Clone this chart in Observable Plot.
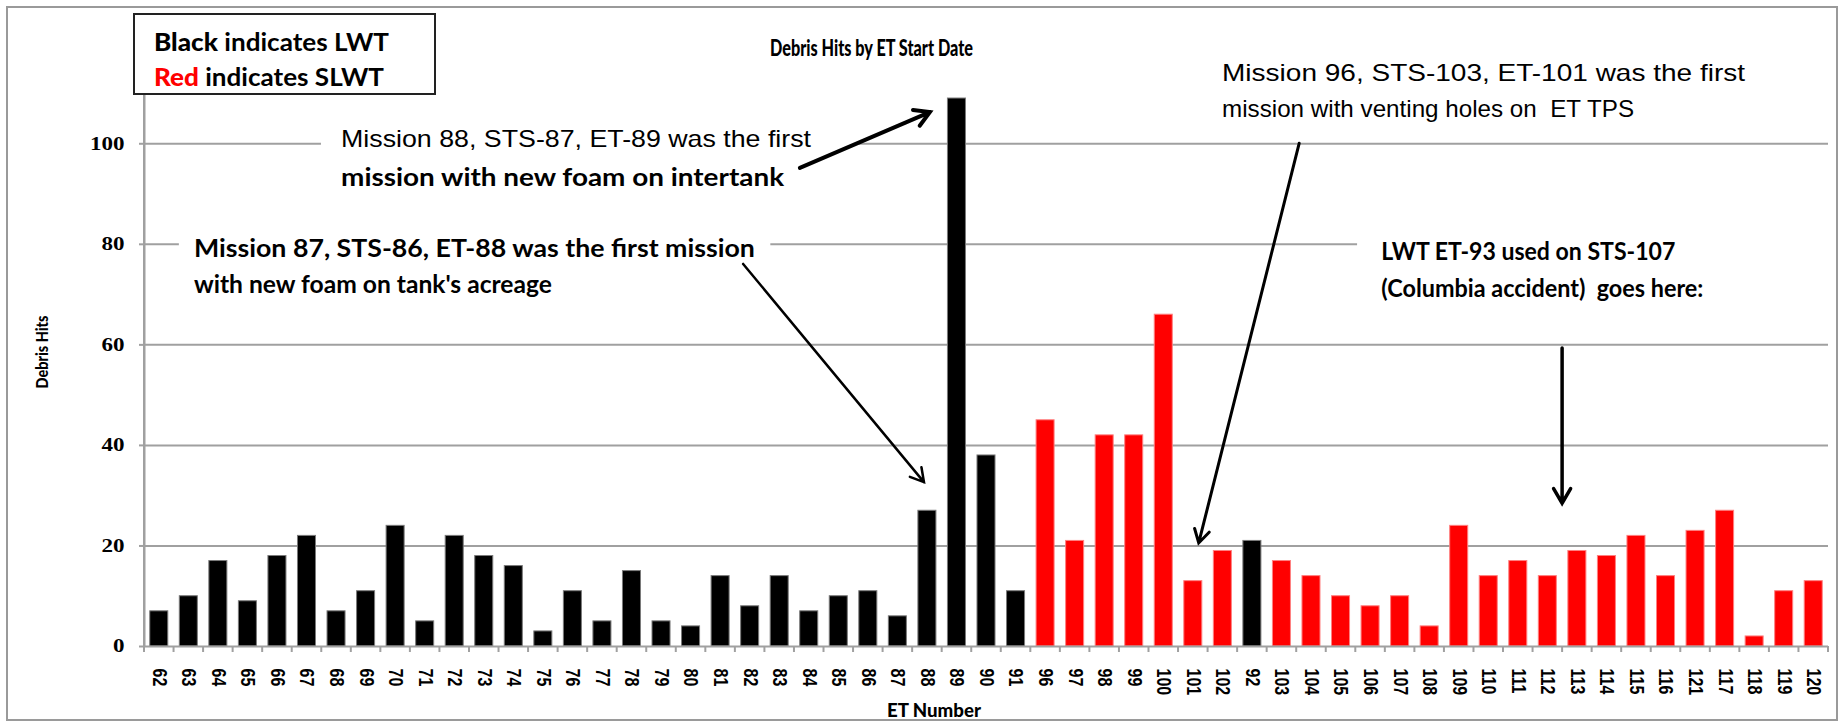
<!DOCTYPE html>
<html><head><meta charset="utf-8">
<script src="https://cdn.jsdelivr.net/npm/d3@7"></script>
<script src="https://cdn.jsdelivr.net/npm/@observablehq/plot@0.6"></script>
<style>
html,body{margin:0;padding:0;background:#fff;}
#chart{position:relative;width:1843px;height:723px;overflow:hidden;}
#chart svg{display:block;}
g[aria-label="y-axis tick"], g[aria-label="y-axis tick"] path{stroke:#a0a0a0;stroke-width:2px;}
</style></head><body><div id="chart"></div>
<script>
// ---- data ----
const etNumbers = ["62","63","64","65","66","67","68","69","70","71","72","73","74","75","76","77","78","79","80","81","82","83","84","85","86","87","88","89","90","91","96","97","98","99","100","101","102","92","103","104","105","106","107","108","109","110","111","112","113","114","115","116","121","117","118","119","120"];
const debrisHits = [7,10,17,9,18,22,7,11,24,5,22,18,16,3,11,5,15,5,4,14,8,14,7,10,11,6,27,109,38,11,45,21,42,42,66,13,19,21,17,14,10,8,10,4,24,14,17,14,19,18,22,14,23,27,2,11,13];
const tankClass = ["LWT","LWT","LWT","LWT","LWT","LWT","LWT","LWT","LWT","LWT","LWT","LWT","LWT","LWT","LWT","LWT","LWT","LWT","LWT","LWT","LWT","LWT","LWT","LWT","LWT","LWT","LWT","LWT","LWT","LWT","SLWT","SLWT","SLWT","SLWT","SLWT","SLWT","SLWT","LWT","SLWT","SLWT","SLWT","SLWT","SLWT","SLWT","SLWT","SLWT","SLWT","SLWT","SLWT","SLWT","SLWT","SLWT","SLWT","SLWT","SLWT","SLWT","SLWT"];
const yTicks = [0,20,40,60,80,100];
const gridValues = [20,40,60,80,100];
const yMax = 110;
const chartTitle = "Debris Hits by ET Start Date";
const xTitle = "ET Number";
const yTitle = "Debris Hits";

// ---- styles ----
const fillFor = {LWT: "#000000", SLWT: "#ff0000"};
const edgeFor = {LWT: "#7a7a7a", SLWT: "#ff8080"};
const SX = 1.28; // horizontal stretch of the original picture's lettering
const W = 1843, H = 723, ML = 144, MR = 15, MT = 93, MB = 77;
const pIn = 0.39, pOut = 0.195;
const stepPx = (W - ML - MR) / etNumbers.length;

const data = etNumbers.map((et, i) => ({et, hits: debrisHits[i], type: tankClass[i]}));

const plot = Plot.plot({
  width: W, height: H,
  marginLeft: ML, marginRight: MR, marginTop: MT, marginBottom: MB,
  style: {background: "white", fontFamily: "Liberation Sans", overflow: "visible"},
  x: {type: "band", domain: etNumbers, paddingInner: pIn, paddingOuter: pOut, label: null},
  y: {domain: [0, yMax], label: null},
  color: {type: "identity"},
  marks: [
    Plot.gridY(gridValues, {stroke: "#a0a0a0", strokeOpacity: 1, strokeWidth: 2}),
    Plot.barY(data, {x: "et", y: "hits", fill: d => fillFor[d.type], stroke: d => edgeFor[d.type], strokeWidth: 1}),
    Plot.ruleY([0], {stroke: "#a0a0a0", strokeWidth: 2}),
    Plot.ruleX([etNumbers[0]], {x: d => d, y1: 0, y2: yMax, dx: -stepPx / 2, stroke: "#a0a0a0", strokeWidth: 2}),
    Plot.axisY(yTicks, {tickSize: 5, tickPadding: 15, fontSize: 18, fontWeight: "bold", fontFamily: "Liberation Serif", label: null}),
    Plot.axisX({tickSize: 0, tickPadding: 22, tickRotate: 90, fontSize: 16, fontWeight: "bold", fontFamily: "Liberation Sans", label: null})
  ]
});
document.getElementById("chart").appendChild(plot);

// ---- annotation layer (positions through the plot's scales) ----
const svg = d3.select(plot);
const xs = plot.scale("x"), ys = plot.scale("y");
const step = xs.apply(etNumbers[1]) - xs.apply(etNumbers[0]);
const x0 = xs.apply(etNumbers[0]) - (step - xs.bandwidth) / 2;
const X = i => x0 + step * i;      // position along the category axis, in category steps
const Y = v => ys.apply(v);

// stretch axis lettering horizontally
svg.selectAll('g[aria-label="x-axis tick label"] text').attr("transform", function() {
  const t = this.getAttribute("transform") || "";
  return t.replace("rotate(", `scale(${SX},1) rotate(`);
});
svg.selectAll('g[aria-label="y-axis tick label"] text').attr("transform", function() {
  const t = this.getAttribute("transform") || "";
  return t + ` scale(${SX},1)`;
});

// x-axis category boundary ticks
svg.append("g").selectAll("line").data(d3.range(etNumbers.length + 1)).join("line")
  .attr("x1", i => X(i)).attr("x2", i => X(i)).attr("y1", Y(0)).attr("y2", Y(0) + 6)
  .attr("stroke", "#a0a0a0").attr("stroke-width", 2);

// white boxes of the text annotations (hide gridlines behind them)
const boxes = [
  {i0: 5.99, i1: 24.2, v0: 89.7, v1: 104.6},
  {i0: 1.18, i1: 21.2, v0: 68.8, v1: 83.2},
  {i0: 41.06, i1: 57.1, v0: 67.8, v1: 81.8}
];
svg.append("g").selectAll("rect").data(boxes).join("rect")
  .attr("x", d => X(d.i0)).attr("width", d => X(d.i1) - X(d.i0))
  .attr("y", d => Y(d.v1)).attr("height", d => Y(d.v0) - Y(d.v1))
  .attr("fill", "white");

// y axis line (on top of the boxes)
svg.append("line").attr("x1", X(0)).attr("x2", X(0)).attr("y1", Y(yMax)).attr("y2", Y(0) + 1)
  .attr("stroke", "#a0a0a0").attr("stroke-width", 2);

// text annotations
const notes = [
  {t: "Mission 88, STS-87, ET-89 was the first", i: 6.67, v: 100.9, f: "Liberation Sans", w: "normal", s: 24, len: 470},
  {t: "mission with new foam on intertank", i: 6.67, v: 93.5, f: "Lato", w: "bold", s: 25, len: 443},
  {t: "Mission 87, STS-86, ET-88 was the first mission", i: 1.69, v: 79.4, f: "Lato", w: "bold", s: 25, len: 561},
  {t: "with new foam on tank's acreage", i: 1.69, v: 72.2, f: "Lato", w: "bold", s: 25, len: 358},
  {t: "Mission 96, STS-103, ET-101 was the first", i: 36.49, v: 114.0, f: "Liberation Sans", w: "normal", s: 24, len: 523},
  {t: "mission with venting holes on  ET TPS", i: 36.49, v: 107.0, f: "Liberation Sans", w: "normal", s: 24, len: 412},
  {t: "LWT ET-93 used on STS-107", i: 41.88, v: 78.8, f: "Lato", w: "bold", s: 25, len: 294},
  {t: "(Columbia accident)  goes here:", i: 41.88, v: 71.4, f: "Lato", w: "bold", s: 25, len: 322}
];
svg.append("g").selectAll("text").data(notes).join("text")
  .attr("x", d => X(d.i)).attr("y", d => Y(d.v))
  .attr("text-anchor", "start").attr("dominant-baseline", "central")
  .attr("font-family", d => d.f).attr("font-weight", d => d.w).attr("font-size", d => d.s)
  .attr("textLength", d => d.len).attr("lengthAdjust", "spacingAndGlyphs")
  .attr("fill", "#000").style("white-space", "pre")
  .text(d => d.t);

// arrows: tail (i1,v1) -> tip (i2,v2)
const arrows = [
  {i1: 22.2, v1: 95.1, i2: 26.6, v2: 106.2, w: 4, h: 17},
  {i1: 20.28, v1: 76.0, i2: 26.4, v2: 32.6, w: 2.5, h: 15},
  {i1: 39.1, v1: 100, i2: 35.7, v2: 20.5, w: 3, h: 15},
  {i1: 48, v1: 59.3, i2: 48, v2: 28.4, w: 3.5, h: 17}
];
function arrowPath(d) {
  const x1 = X(d.i1), y1 = Y(d.v1), x2 = X(d.i2), y2 = Y(d.v2);
  const a = Math.atan2(y2 - y1, x2 - x1), sp = Math.PI / 6;
  const ax = x2 - d.h * Math.cos(a - sp), ay = y2 - d.h * Math.sin(a - sp);
  const bx = x2 - d.h * Math.cos(a + sp), by = y2 - d.h * Math.sin(a + sp);
  return `M${x1},${y1}L${x2},${y2}M${ax},${ay}L${x2},${y2}L${bx},${by}`;
}
svg.append("g").selectAll("path").data(arrows).join("path")
  .attr("d", arrowPath).attr("fill", "none").attr("stroke", "#000")
  .attr("stroke-width", d => d.w).attr("stroke-linecap", "round").attr("stroke-linejoin", "miter");

// chart title
svg.append("text").attr("x", 770).attr("y", 47).attr("text-anchor", "start").attr("dominant-baseline", "central")
  .attr("font-family", "Lato").attr("font-weight", "900").attr("font-size", 23)
  .attr("textLength", 203).attr("lengthAdjust", "spacingAndGlyphs").text(chartTitle);
// axis titles
svg.append("text").attr("x", X(26.74)).attr("y", 710).attr("text-anchor", "middle")
  .attr("dominant-baseline", "central").attr("font-family", "Lato").attr("font-weight", "900")
  .attr("font-size", 18).attr("textLength", 94).attr("lengthAdjust", "spacingAndGlyphs").text(xTitle);
svg.append("text").attr("transform", `translate(41,352) rotate(-90)`).attr("text-anchor", "middle")
  .attr("dominant-baseline", "central").attr("font-family", "Lato").attr("font-weight", "900")
  .attr("font-size", 16).attr("textLength", 73).attr("lengthAdjust", "spacingAndGlyphs").text(yTitle);

// legend box
svg.append("rect").attr("x", 134).attr("y", 14).attr("width", 301).attr("height", 80)
  .attr("fill", "white").attr("stroke", "#222").attr("stroke-width", 2);
const leg = [
  {lead: "Black", color: "#000", rest: " indicates LWT", y: 41, len: 235},
  {lead: "Red", color: "#ff0000", rest: " indicates SLWT", y: 76, len: 230}
];
const lt = svg.append("g").selectAll("text").data(leg).join("text")
  .attr("x", 154).attr("y", d => d.y).attr("text-anchor", "start").attr("dominant-baseline", "central")
  .attr("font-family", "Lato").attr("font-size", 24).attr("font-weight", "bold")
  .attr("textLength", d => d.len).attr("lengthAdjust", "spacingAndGlyphs").style("white-space", "pre");
lt.append("tspan").attr("fill", d => d.color).attr("font-weight", "900").text(d => d.lead);
lt.append("tspan").attr("fill", "#000").text(d => d.rest);

// outer chart frame
svg.append("rect").attr("x", 7).attr("y", 7).attr("width", 1830).attr("height", 713)
  .attr("fill", "none").attr("stroke", "#9a9a9a").attr("stroke-width", 2);
</script></body></html>
